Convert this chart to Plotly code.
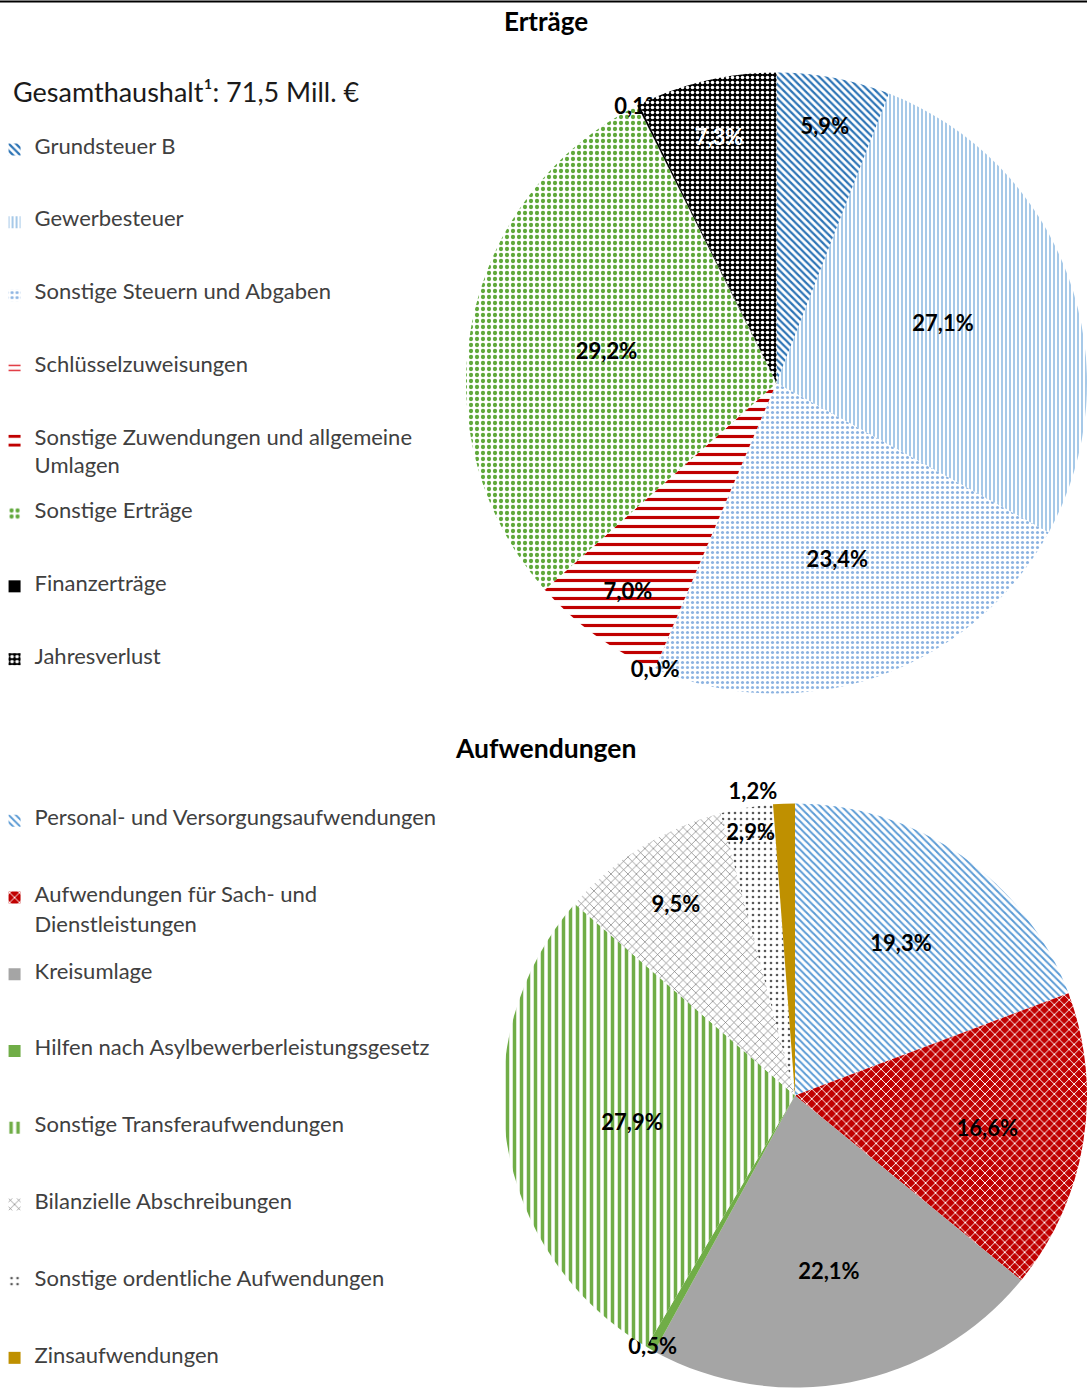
import plotly.graph_objects as go

# --- data -------------------------------------------------------------------
ertraege_labels = [
    "Grundsteuer B",
    "Gewerbesteuer",
    "Sonstige Steuern und Abgaben",
    "Schlüsselzuweisungen",
    "Sonstige Zuwendungen und allgemeine|Umlagen",
    "Sonstige Erträge",
    "Finanzerträge",
    "Jahresverlust",
]
# Schlüsselzuweisungen is shown as "0,0%" -> a tiny share, estimated
ertraege_values = [5.9, 27.1, 23.4, 0.02, 7.0, 29.2, 0.1, 7.3]

aufw_labels = [
    "Personal- und Versorgungsaufwendungen",
    "Aufwendungen für Sach- und|Dienstleistungen",
    "Kreisumlage",
    "Hilfen nach Asylbewerberleistungsgesetz",
    "Sonstige Transferaufwendungen",
    "Bilanzielle Abschreibungen",
    "Sonstige ordentliche Aufwendungen",
    "Zinsaufwendungen",
]
aufw_values = [19.3, 16.6, 22.1, 0.5, 27.9, 9.5, 2.9, 1.2]

gesamt_title = "Gesamthaushalt¹: 71,5 Mill. €"

FONT = "Lato"
TXT = "#404040"
W, H = 1087, 1389


def legend_labels(names, size):
    # every legend row is 5 small "lines" tall; label text sits on line 1 (and 3)
    out = []
    for i, name in enumerate(names):
        parts = name.split("|")
        span = lambda s: f"<span style='font-size:{size}px'>{s}</span>"
        last = i == len(names) - 1
        if len(parts) == 1:
            out.append(span(parts[0]) + ("" if last else "<br><br><br><br> "))
        else:
            out.append(span(parts[0]) + "<br><br>" + span(parts[1]) + ("" if last else "<br><br> "))
    return out


def pattern(p):
    return dict(shape=[d["shape"] for d in p], fgcolor=[d["fg"] for d in p],
                bgcolor=[d["bg"] for d in p], size=[d.get("size", 6) for d in p],
                solidity=[d.get("sol", 0.3) for d in p], fillmode="replace")


top_pattern = [
    dict(shape="\\", fg="#2e75b6", bg="white", size=5, sol=0.45),
    dict(shape="|", fg="#9dc3e6", bg="white", size=4, sol=0.45),
    dict(shape=".", fg="#8db4e2", bg="white", size=5, sol=0.3),
    dict(shape="-", fg="#e0303a", bg="white", size=5, sol=0.3),
    dict(shape="-", fg="#c00000", bg="white", size=9, sol=0.35),
    dict(shape=".", fg="#5fa83a", bg="white", size=6, sol=0.4),
    dict(shape="", fg="black", bg="black"),
    dict(shape=".", fg="white", bg="black", size=5, sol=0.4),
]
top_colors = ["#2e75b6", "#9dc3e6", "#9dc3e6", "#e0303a", "#c00000", "#70ad47", "black", "black"]
top_text_colors = ["black"] * 6 + ["black", "white"]

bot_pattern = [
    dict(shape="\\", fg="#5b9bd5", bg="white", size=5, sol=0.4),
    dict(shape="x", fg="white", bg="#c00000", size=7, sol=0.25),
    dict(shape="", fg="#a5a5a5", bg="#a5a5a5"),
    dict(shape="", fg="#70ad47", bg="#70ad47"),
    dict(shape="|", fg="#70ad47", bg="white", size=7, sol=0.5),
    dict(shape="x", fg="#6f6f6f", bg="white", size=6, sol=0.2),
    dict(shape=".", fg="#595959", bg="white", size=6, sol=0.15),
    dict(shape="", fg="#bf9000", bg="#bf9000"),
]
bot_colors = ["#5b9bd5", "#c00000", "#a5a5a5", "#70ad47", "#70ad47", "#6f6f6f", "#595959", "#bf9000"]
bot_textpos = ["inside"] * 7 + ["outside"]

fig = go.Figure()

fig.add_trace(go.Pie(
    labels=legend_labels(ertraege_labels, 22), values=ertraege_values,
    sort=False, direction="clockwise", rotation=0,
    marker=dict(colors=top_colors, pattern=pattern(top_pattern), line=dict(width=0)),
    texttemplate="%{value:.1f}%", textposition="inside", insidetextorientation="horizontal",
    textfont=dict(family=FONT, size=22, color=top_text_colors, weight="bold"),
    domain=dict(x=[466 / W, 1.0], y=[1 - 694 / H, 1 - 72 / H]),
    legend="legend", hoverinfo="percent",
))

fig.add_trace(go.Pie(
    labels=legend_labels(aufw_labels, 22), values=aufw_values,
    sort=False, direction="clockwise", rotation=0,
    marker=dict(colors=bot_colors, pattern=pattern(bot_pattern), line=dict(width=0)),
    texttemplate="%{value:.1f}%", textposition=bot_textpos, insidetextorientation="horizontal",
    textfont=dict(family=FONT, size=22, color="black", weight="bold"),
    domain=dict(x=[503 / W, 1.0], y=[0.0, 1 - 802 / H]),
    legend="legend2", hoverinfo="percent",
))

fig.update_layout(
    width=W, height=H, margin=dict(l=0, r=0, t=0, b=0, autoexpand=False),
    paper_bgcolor="white", plot_bgcolor="white",
    separators=",.",
    font=dict(family=FONT, color=TXT),
    uniformtext=dict(minsize=22, mode="show"),
    legend=dict(x=-0.005, y=1 - 136 / H, xanchor="left", yanchor="top", valign="top",
                font=dict(family=FONT, size=10.74, color=TXT),
                itemclick=False, bgcolor="rgba(0,0,0,0)"),
    legend2=dict(x=-0.005, y=1 - 807 / H, xanchor="left", yanchor="top", valign="top",
                 font=dict(family=FONT, size=11.34, color=TXT),
                 itemclick=False, bgcolor="rgba(0,0,0,0)"),
    shapes=[dict(type="line", xref="paper", yref="paper", x0=0, x1=1, y0=1 - 1.5 / H, y1=1 - 1.5 / H,
                 line=dict(color="black", width=2))],
    annotations=[
        dict(text="<b>Erträge</b>", x=0.502, y=1 - 21 / H, xref="paper", yref="paper",
             yanchor="middle", showarrow=False, font=dict(family=FONT, size=26, color="black")),
        dict(text="<b>Aufwendungen</b>", x=0.502, y=1 - 748 / H, xref="paper", yref="paper",
             yanchor="middle", showarrow=False, font=dict(family=FONT, size=26.5, color="black")),
        dict(text=gesamt_title, x=11 / W, y=1 - 92 / H, xref="paper", yref="paper",
             xanchor="left", yanchor="middle", showarrow=False,
             font=dict(family=FONT, size=27, color="#1a1a1a")),
    ],
)

# the page body has an 8px default margin; drop it so the figure fills the window
fig.write_html("out.html", config={"displayModeBar": False},
               post_script="document.body.style.margin='0';")
